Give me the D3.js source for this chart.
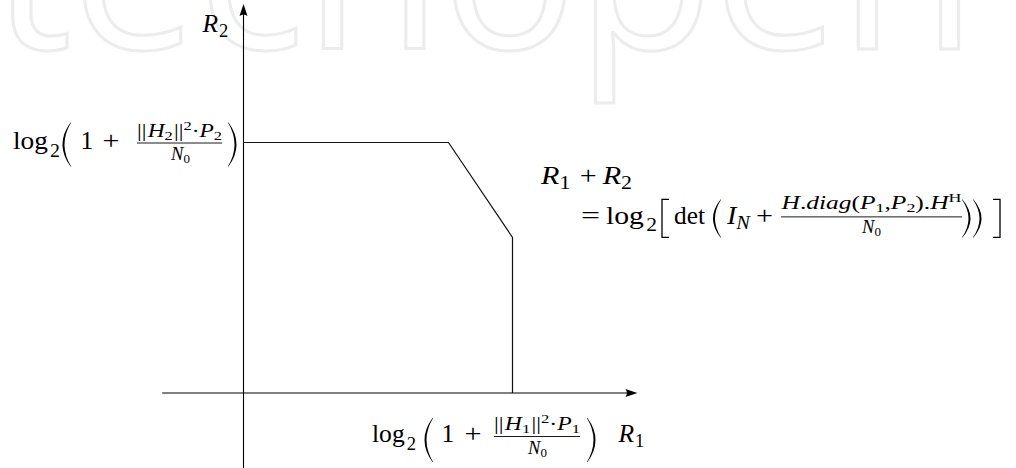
<!DOCTYPE html>
<meta charset="utf-8" />
<style>
  body {
    margin: 0;
    background: #fff;
  }
  svg {
    display: block;
  }
  .math {
    font-family: "Liberation Serif", "Times New Roman", Times, serif;
    fill: #000;
  }
  .delim {
    fill: #000;
  }
  .bracket {
    fill: none;
    stroke: #000;
    stroke-width: 1.3;
  }
  .mark {
    font-family: "Open Sans", sans-serif;
    fill: #fff;
    stroke: #ececec;
    stroke-width: 3;
  }
</style>
<body>
  <div class="container"></div>

  <script src="https://d3js.org/d3.v7.min.js"></script>
  <script>
    // corners of the rate region, (R1, R2)
    const regionR1 = [0, 3.2, 4.2, 4.2];
    const regionR2 = [2.64, 2.64, 1.64, 0];
    // extent of the two axes
    const axisR1 = [-1.27, 6.15];
    const axisR2 = [-0.8, 4.1];
    const capR1 = 4.2,
      capR2 = 2.64;

    const width = 1016,
      height = 468;

    const M = 25.5,
      S = 18.5,
      SS = 13;

    var svg = d3
      .select(".container")
      .append("svg")
      .attr("width", width)
      .attr("height", height);

    // faint watermark behind everything
    svg
      .append("text")
      .attr("class", "mark")
      .attr("x", -8)
      .attr("y", 49)
      .attr("font-size", 225)
      .attr("textLength", 985)
      .attr("lengthAdjust", "spacing")
      .text("techopen");

    let x = d3.scaleLinear().domain([0, capR1]).range([243.5, 512.5]);
    let y = d3.scaleLinear().domain([0, capR2]).range([393, 142.5]);

    // axes
    svg
      .append("line")
      .attr("x1", x(axisR1[0]))
      .attr("x2", x(axisR1[1]) - 6)
      .attr("y1", y(0))
      .attr("y2", y(0))
      .attr("stroke", "#000")
      .attr("stroke-width", 1.1);

    svg
      .append("line")
      .attr("x1", x(0))
      .attr("x2", x(0))
      .attr("y1", y(axisR2[0]))
      .attr("y2", y(axisR2[1]) + 6)
      .attr("stroke", "#000")
      .attr("stroke-width", 1.1);

    // latex style arrow heads
    let tx = x(axisR1[1]),
      ty = y(0);
    svg
      .append("path")
      .attr(
        "d",
        `M${tx},${ty} L${tx - 12},${ty - 4} Q${tx - 9},${ty} ${tx - 12},${ty + 4} Z`
      )
      .attr("fill", "#000");
    tx = x(0);
    ty = y(axisR2[1]);
    svg
      .append("path")
      .attr(
        "d",
        `M${tx},${ty} L${tx - 4},${ty + 12} Q${tx},${ty + 9} ${tx + 4},${ty + 12} Z`
      )
      .attr("fill", "#000");

    // region boundary
    const line = d3
      .line()
      .x((d) => x(d[0]))
      .y((d) => y(d[1]));

    svg
      .append("path")
      .datum(d3.zip(regionR1, regionR2))
      .attr("d", line)
      .attr("fill", "none")
      .attr("stroke", "#111")
      .attr("stroke-width", 1.2);

    // ---- math helpers ----
    function row(g, px, py, parts, opts = {}) {
      const t = g
        .append("text")
        .attr("class", "math")
        .attr("x", px)
        .attr("y", py)
        .attr("text-anchor", opts.anchor || "start");
      let shift = 0;
      parts.forEach((p) => {
        const [str, size, it, sh = 0, dx = 0] = p;
        t.append("tspan")
          .attr("font-size", size)
          .attr("font-style", it ? "italic" : null)
          .attr("dy", sh - shift)
          .attr("dx", dx || null)
          .text(str);
        shift = sh;
      });
      if (opts.width)
        t.attr("textLength", opts.width).attr("lengthAdjust", "spacingAndGlyphs");
      return t;
    }

    function paren(g, x0, x1, y0, y1, left) {
      const ym = (y0 + y1) / 2;
      const xe = left ? x1 : x0,
        xm = left ? x0 : x1;
      const w = left ? 1.7 : -1.7;
      const c1 = 2 * xm - xe,
        c2 = 2 * (xm + w) - xe;
      g.append("path")
        .attr("class", "delim")
        .attr(
          "d",
          `M${xe},${y0} Q${c1},${ym} ${xe},${y1} L${xe + w * 0.35},${y1} Q${c2},${ym} ${xe + w * 0.35},${y0} Z`
        );
    }

    function bracket(g, x0, x1, y0, y1, left) {
      const a = left ? x1 : x0,
        b = left ? x0 : x1;
      g.append("path")
        .attr("class", "bracket")
        .attr("d", `M${a},${y0} H${b} V${y1} H${a}`);
    }

    function fracBar(g, x0, x1, py) {
      g.append("line")
        .attr("x1", x0)
        .attr("x2", x1)
        .attr("y1", py)
        .attr("y2", py)
        .attr("stroke", "#000")
        .attr("stroke-width", 0.9);
    }

    // ---- axis names ----
    row(svg, x(0) - 41, y(axisR2[1]) + 28, [
      ["R", M, true],
      ["2", S, false, 5, 1],
    ]);
    row(svg, x(capR1) + 106, y(0) + 49, [
      ["R", M, true],
      ["1", S, false, 5, 1],
    ]);

    // ---- R2 capacity on the left ----
    let g = svg
      .append("g")
      .attr("transform", `translate(${x(0)},${y(capR2)})`);
    row(g, -230.5, 6, [["log", M], ["2", S, false, 8, 2]], { width: 47 });
    paren(g, -181, -173, -20, 24, true);
    row(g, -163, 6, [["1", M]]);
    row(g, -141, 6, [["+", M]], { width: 17 });
    row(
      g,
      -64,
      -6,
      [
        ["||", S],
        ["H", S, true, 0, 1],
        ["2", SS, false, 3],
        ["||", S, false, 0, 1],
        ["2", SS, false, -7],
        ["\u00b7", S, false, 0],
        ["P", S, true],
        ["2", SS, false, 3],
      ],
      { anchor: "middle", width: 85 }
    );
    fracBar(g, -106.5, -21.5, 0.5);
    row(g, -63, 17.5, [["N", S, true], ["0", SS, false, 3]], {
      anchor: "middle",
    });
    paren(g, -15, -7, -20, 24, false);

    // ---- R1 capacity under the axis ----
    g = svg.append("g").attr("transform", `translate(${x(capR1)},${y(0)})`);
    row(g, -140.5, 49, [["log", M], ["2", S, false, 8, 2]], { width: 44 });
    paren(g, -88, -80, 25, 69, true);
    row(g, -71, 49, [["1", M]]);
    row(g, -48, 49, [["+", M]], { width: 17 });
    row(
      g,
      24.5,
      37,
      [
        ["||", S],
        ["H", S, true, 0, 1],
        ["1", SS, false, 3],
        ["||", S, false, 0, 1],
        ["2", SS, false, -7],
        ["\u00b7", S, false, 0],
        ["P", S, true],
        ["1", SS, false, 3],
      ],
      { anchor: "middle", width: 86 }
    );
    fracBar(g, -18.5, 67.5, 43.5);
    row(g, 25, 60.5, [["N", S, true], ["0", SS, false, 3]], {
      anchor: "middle",
    });
    paren(g, 75, 83, 25, 69, false);

    // ---- sum rate next to the diagonal ----
    g = svg
      .append("g")
      .attr("transform", `translate(${x(regionR1[2])},${y(regionR2[2])})`);
    row(
      g,
      28.5,
      -53,
      [
        ["R", M, true],
        ["1", S, false, 5],
        ["+", M, false, 0, 8],
        ["R", M, true, 0, 5],
        ["2", S, false, 5],
      ],
      { width: 91 }
    );
    row(g, 68.5, -13, [["=", M]], { width: 19 });
    row(g, 93.5, -13, [["log", M], ["2", S, false, 7, 2]], { width: 51 });
    bracket(g, 149.5, 156.5, -38, 0, true);
    row(g, 161.5, -13, [["det", M]], { width: 31 });
    paren(g, 200.5, 208, -38, 0, true);
    row(g, 214.5, -13, [["I", M, true], ["N", S, true, 5]], { width: 23 });
    row(g, 243.5, -13, [["+", M]], { width: 17 });
    row(
      g,
      359,
      -28,
      [
        ["H", S, true],
        [".", S],
        ["diag", S, true],
        ["(", S],
        ["P", S, true],
        ["1", SS, false, 3],
        [",", S, false, 0],
        ["P", S, true],
        ["2", SS, false, 3],
        [").", S, false, 0],
        ["H", S, true],
        ["H", SS, false, -7],
      ],
      { anchor: "middle", width: 180 }
    );
    fracBar(g, 268.5, 449.5, -20.5);
    row(g, 359, -4.5, [["N", S, true], ["0", SS, false, 3]], {
      anchor: "middle",
    });
    paren(g, 450, 458, -38, 0, false);
    paren(g, 461, 469, -38, 0, false);
    bracket(g, 480.5, 487.5, -38, 0, false);
  </script>
</body>
